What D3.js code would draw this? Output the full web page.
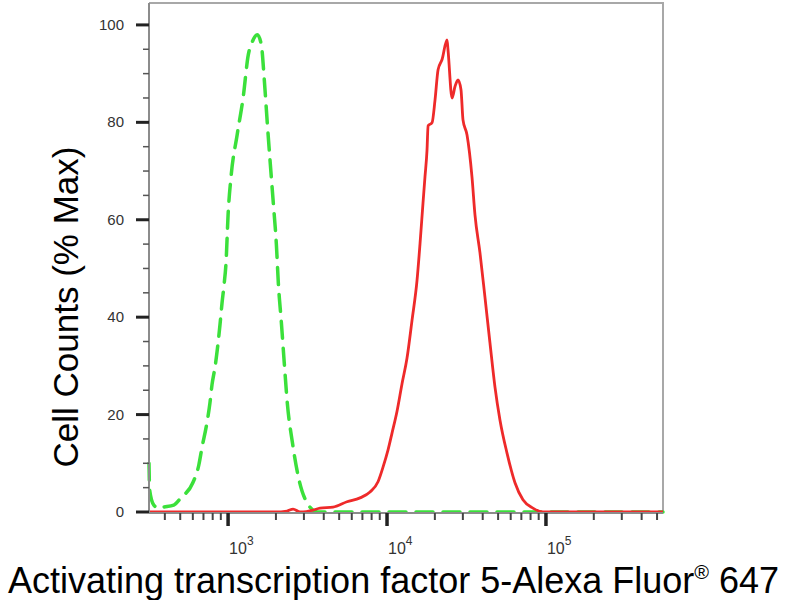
<!DOCTYPE html>
<html>
<head>
<meta charset="utf-8">
<script src="https://cdn.jsdelivr.net/npm/d3@7"></script>
<style>
  body { margin: 0; background: #fff; }
  svg { display: block; font-family: "Liberation Sans", Arial, sans-serif; }
</style>
</head>
<body>
<div id="chart"></div>
<script>
// isotype control (green, dashed)
const greenX = [318, 321, 341, 366, 393, 455, 505, 600, 655, 684, 736, 769, 792, 828, 865, 889, 916, 943, 971,
    1000, 1045, 1140, 1245, 1339, 1419, 1527, 1619, 1690, 1766, 1845, 1928, 2014, 2071, 2163, 2259, 2361,
    2541, 2813, 3070, 3656, 10000, 100000, 545000];
const greenY = [10, 4.5, 1.4, 0.8, 1.0, 1.4, 2.9, 6.0, 9.7, 13.1, 18.3, 22.4, 26.1, 29.8, 34.7, 38.4, 42.9, 46.6, 51.3,
    61.0, 69.0, 77.4, 85.2, 93.8, 96.5, 98.0, 95.9, 88.7, 79.7, 71.3, 63.2, 54.8, 47.0, 39.0, 30.4, 22.2,
    14.2, 6.2, 2.5, 0, 0, 0, 0];

// ATF5 stained cells (red, solid)
const redX = [318, 1977, 2350, 2564, 2838, 2963, 3427, 3793, 4571, 5600, 6761, 7814, 8776, 9436, 10140, 10750,
    11560, 12420, 13360, 14370, 15450, 16140, 16840, 17330, 17850, 18130, 19190, 20050, 20950, 22200,
    23840, 24190, 25660, 26800, 27980, 29200, 30060, 31870, 34240, 35760, 38450, 41320, 44440, 47760,
    51350, 56880, 63840, 71660, 82800, 95700, 545000];
const redY = [0, 0, 0.2, 0.6, 0, 0, 0.4, 0.8, 1.0, 2.1, 2.9, 4.1, 6.2, 9.2, 12.7, 16.2,
    20.7, 26.3, 31.6, 39.4, 47.6, 55.2, 63.4, 68.8, 74.3, 79.3, 79.9, 84.6, 90.8, 92.9,
    96.9, 94.9, 85.0, 87.4, 88.7, 86.7, 80.5, 77.4, 68.8, 61.0, 53.2, 44.1, 34.7, 25.7,
    18.9, 12.1, 6.0, 2.5, 0.8, 0, 0];

const yTicks = [0, 20, 40, 60, 80, 100];
const xDecades = [3, 4, 5];
const xTitle = "Activating transcription factor 5-Alexa Fluor";
const yTitle = "Cell Counts (% Max)";

const width = 800, height = 600;
const m = { left: 149, right: 663, top: 3, bottom: 512 };

const svg = d3.select("#chart").append("svg")
    .attr("width", width)
    .attr("height", height);

const x = d3.scaleLog().domain([318, 545000]).range([m.left, m.right]);
const y = d3.scaleLinear().domain([0, 104.5]).range([m.bottom, m.top]);

// frame (top + right)
svg.append("path")
    .attr("d", `M${m.left},${m.top}H${m.right}V${m.bottom}`)
    .attr("fill", "none")
    .attr("stroke", "#a8a8a8")
    .attr("stroke-width", 2);

// curves
const line = d3.line()
    .x(d => x(d[0]))
    .y(d => y(d[1]))
    .curve(d3.curveMonotoneX);

svg.append("path")
    .datum(d3.zip(greenX, greenY))
    .attr("d", line)
    .attr("fill", "none")
    .attr("stroke", "#3be03b")
    .attr("stroke-width", 3.5)
    .attr("stroke-dasharray", "17,10")
    .attr("stroke-linecap", "round");

svg.append("path")
    .datum(d3.zip(redX, redY))
    .attr("d", line)
    .attr("fill", "none")
    .attr("stroke", "#ee2a2a")
    .attr("stroke-width", 2.8);

// axis lines
svg.append("line")
    .attr("x1", m.left).attr("x2", m.left)
    .attr("y1", m.top).attr("y2", m.bottom)
    .attr("stroke", "#8c8c8c").attr("stroke-width", 2);
svg.append("line")
    .attr("x1", m.left).attr("x2", m.right)
    .attr("y1", m.bottom + 1).attr("y2", m.bottom + 1)
    .attr("stroke", "#8c8c8c").attr("stroke-width", 2);

// y ticks
const yMinor = d3.range(5, 101, 5).filter(v => v % 20 !== 0);
svg.selectAll(".ymin").data(yMinor).enter().append("line")
    .attr("x1", m.left - 6).attr("x2", m.left)
    .attr("y1", d => y(d)).attr("y2", d => y(d))
    .attr("stroke", "#555").attr("stroke-width", 1.5);
svg.selectAll(".ymaj").data(yTicks).enter().append("line")
    .attr("x1", m.left - 13).attr("x2", m.left)
    .attr("y1", d => y(d)).attr("y2", d => y(d))
    .attr("stroke", "#222").attr("stroke-width", 3);
svg.selectAll(".ylab").data(yTicks).enter().append("text")
    .attr("x", m.left - 25)
    .attr("y", d => y(d) + 5)
    .attr("text-anchor", "end")
    .attr("font-size", 15)
    .attr("fill", "#333")
    .text(d => d);

// x ticks
const xMinor = [];
[2, 3, 4, 5].forEach(e => {
    for (let k = 2; k <= 9; k++) {
        const v = k * Math.pow(10, e);
        if (v > x.domain()[0] && v < x.domain()[1]) xMinor.push(v);
    }
});
svg.selectAll(".xmin").data(xMinor).enter().append("line")
    .attr("x1", d => x(d)).attr("x2", d => x(d))
    .attr("y1", m.bottom + 1).attr("y2", m.bottom + 8)
    .attr("stroke", "#444").attr("stroke-width", 2);
svg.selectAll(".xmaj").data(xDecades).enter().append("line")
    .attr("x1", d => x(Math.pow(10, d))).attr("x2", d => x(Math.pow(10, d)))
    .attr("y1", m.bottom + 1).attr("y2", m.bottom + 14)
    .attr("stroke", "#222").attr("stroke-width", 3.5);

const xl = svg.selectAll(".xlab").data(xDecades).enter().append("text")
    .attr("x", d => x(Math.pow(10, d)) + 1)
    .attr("y", 554)
    .attr("font-size", 16)
    .attr("fill", "#333");
xl.append("tspan").text("10");
xl.append("tspan").attr("dy", -9).attr("font-size", 12).text(d => d);

// axis titles
const t = svg.append("text")
    .attr("x", 8)
    .attr("y", 593)
    .attr("font-size", 36)
    .attr("fill", "#000");
t.append("tspan").text(xTitle);
t.append("tspan").attr("dy", -14).attr("font-size", 20).text("®");
t.append("tspan").attr("dy", 14).text(" 647");

svg.append("text")
    .attr("transform", `translate(78,307) rotate(-90)`)
    .attr("text-anchor", "middle")
    .attr("font-size", 35)
    .attr("fill", "#000")
    .text(yTitle);
</script>
</body>
</html>
